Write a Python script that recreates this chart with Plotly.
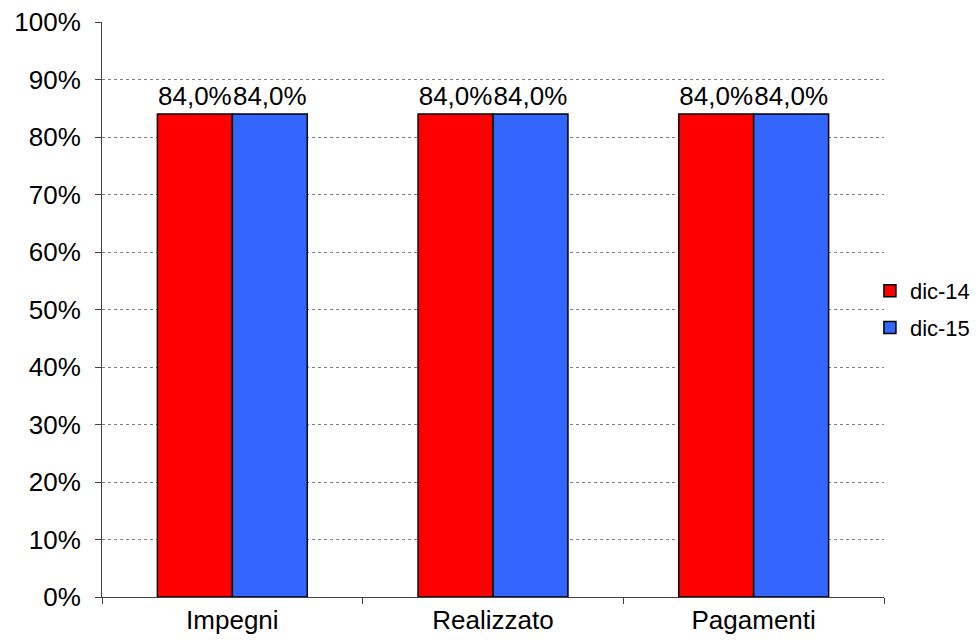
import plotly.graph_objects as go

categories = ["Impegni", "Realizzato", "Pagamenti"]
series_names = ["dic-14", "dic-15"]
values_dic14 = [0.84, 0.84, 0.84]
values_dic15 = [0.84, 0.84, 0.84]
labels_dic14 = ["84,0%", "84,0%", "84,0%"]
labels_dic15 = ["84,0%", "84,0%", "84,0%"]
y_ticks = [0, 0.1, 0.2, 0.3, 0.4, 0.5, 0.6, 0.7, 0.8, 0.9, 1.0]
colors = ["#FF0000", "#3366FF"]

FONT = "Liberation Sans, Arial, sans-serif"

fig = go.Figure()
for name, vals, labs, col in zip(series_names, [values_dic14, values_dic15],
                                 [labels_dic14, labels_dic15], colors):
    fig.add_trace(go.Bar(
        x=categories, y=vals, name=name, legendgroup=name,
        text=labs, textposition="outside", cliponaxis=False,
        textfont=dict(size=26, color="black", family=FONT),
        marker=dict(color=col, line=dict(color="black", width=1.5)),
    ))

# the page body adds an 8px offset; margins compensate for it
fig.update_layout(
    width=980, height=640,
    margin=dict(l=94, r=104, t=14, b=51, autoexpand=False),
    paper_bgcolor="white", plot_bgcolor="white",
    barmode="group", bargap=0.425, bargroupgap=0,
    font=dict(family=FONT, size=26, color="black"),
    showlegend=True,
    legend=dict(x=0.982, y=0.5, xanchor="left", yanchor="middle",
                font=dict(size=22, family=FONT), tracegroupgap=5,
                itemwidth=30, bgcolor="rgba(0,0,0,0)"),
)
fig.update_yaxes(
    range=[0, 1.0001], tickvals=y_ticks,
    tickformat=".0%", automargin=False, ticklabeloverflow="allow",
    ticklabelstandoff=9,
    showgrid=True, gridcolor="#808080", griddash="dot", gridwidth=1,
    showline=True, linecolor="#404040", linewidth=1,
    ticks="outside", ticklen=6, tickcolor="#404040",
    tickfont=dict(size=26, family=FONT), zeroline=False,
)
fig.update_xaxes(
    showline=True, linecolor="#404040", linewidth=1, automargin=False,
    ticks="outside", ticklen=6, tickcolor="#404040", tickson="boundaries",
    tickfont=dict(size=26, family=FONT),
)

fig.write_html("out.html")
